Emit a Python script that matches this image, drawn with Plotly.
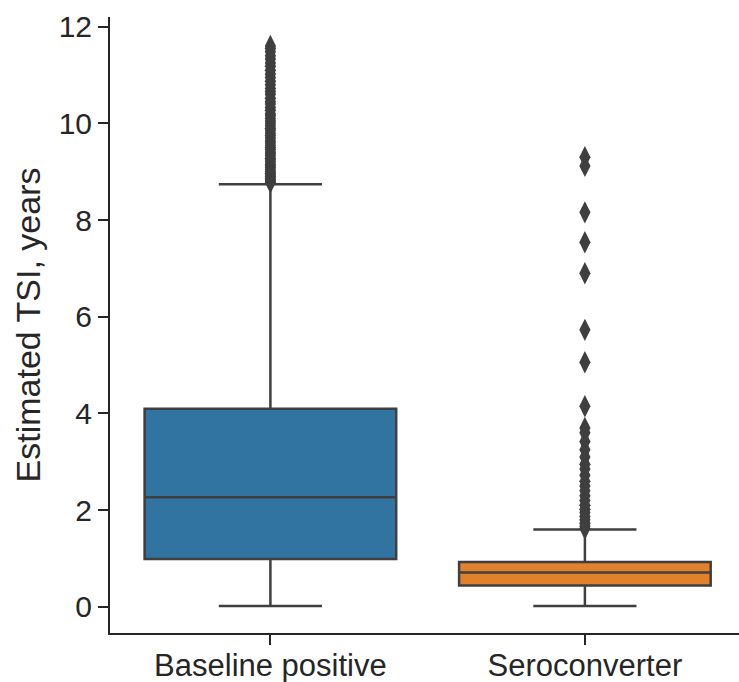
import plotly.graph_objects as go

categories = ["Baseline positive", "Seroconverter"]
q1 = [0.99, 0.44]
medians = [2.27, 0.71]
q3 = [4.10, 0.93]
lower_whisker = [0.02, 0.02]
upper_whisker = [8.74, 1.60]
box_colors = ["#3274a1", "#e1812c"]

baseline_outliers = [8.78, 8.80, 8.83, 8.86, 8.90, 8.93, 8.97, 9.00, 9.04, 9.08, 9.12, 9.15,
                     9.20, 9.24, 9.28, 9.33, 9.37, 9.41, 9.46, 9.50, 9.55, 9.60, 9.64, 9.70,
                     9.75, 9.80, 9.86, 9.90, 9.95, 10.00, 10.05, 10.10, 10.16, 10.20, 10.27,
                     10.33, 10.40, 10.45, 10.52, 10.60, 10.66, 10.72, 10.80, 10.87, 10.95,
                     11.02, 11.10, 11.18, 11.25, 11.33, 11.40, 11.48, 11.55, 11.60]
sero_outliers = [9.30, 9.12, 8.16, 7.54, 6.90, 5.73, 5.06, 4.15, 3.70, 3.60, 3.42, 3.25,
                 3.10, 2.95, 2.85, 2.72, 2.60, 2.50, 2.40, 2.30, 2.20, 2.10, 2.02, 1.95,
                 1.87, 1.80, 1.73, 1.67, 1.62]
outliers = [baseline_outliers, sero_outliers]

y_ticks = [0, 2, 4, 6, 8, 10, 12]

line_col = "#3f3f3f"
axis_col = "#262626"
fig = go.Figure()
for i, cat in enumerate(categories):
    fig.add_trace(go.Box(
        x=[cat], q1=[q1[i]], median=[medians[i]], q3=[q3[i]],
        lowerfence=[lower_whisker[i]], upperfence=[upper_whisker[i]],
        fillcolor=box_colors[i], line=dict(color=line_col, width=2.5),
        width=0.8, whiskerwidth=0.41, boxpoints=False, showlegend=False,
        hoverinfo="skip"))
    fig.add_trace(go.Scatter(
        x=[cat] * len(outliers[i]), y=outliers[i], mode="markers",
        marker=dict(symbol="diamond-tall", size=16, color=line_col,
                    line=dict(width=0)),
        showlegend=False))

font_family = "Liberation Sans, Arial, sans-serif"
fig.update_layout(
    width=739, height=682,
    margin=dict(l=110, r=0, t=17, b=49),
    plot_bgcolor="white", paper_bgcolor="white",
    font=dict(family=font_family, size=30, color="#262626"),
    xaxis=dict(type="category", categoryorder="array", categoryarray=categories,
               range=[-0.51, 1.49], showline=True, linecolor=axis_col, linewidth=2,
               ticks="outside", ticklen=10, tickwidth=2, tickcolor=axis_col,
               showgrid=False, zeroline=False, automargin=False,
               ticklabelstandoff=-6, tickfont=dict(size=31)),
    yaxis=dict(range=[-0.54, 12.2], tickvals=y_ticks, showline=True,
               linecolor=axis_col, linewidth=2, ticks="outside", ticklen=10,
               tickwidth=2, tickcolor=axis_col, showgrid=False, zeroline=False,
               automargin=False, tickfont=dict(size=30),
               title=dict(text="Estimated TSI, years", font=dict(size=34), standoff=8)),
)
fig.write_html("out.html", config={"displayModeBar": False},
               post_script="document.body.style.margin='0';")
